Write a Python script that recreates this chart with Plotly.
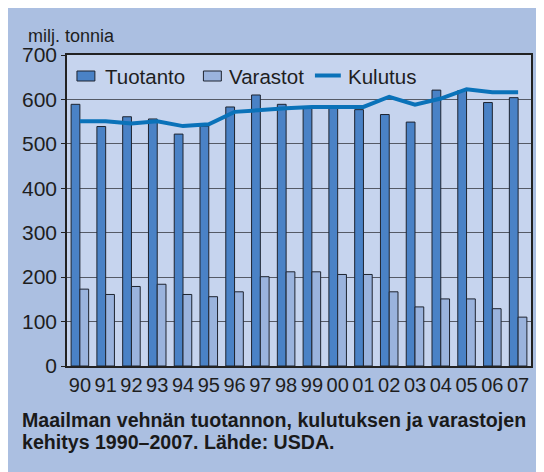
import plotly.graph_objects as go

years = ["90","91","92","93","94","95","96","97","98","99","00","01","02","03","04","05","06","07"]
tuotanto = [589, 539, 561, 556, 522, 540, 583, 610, 589, 583, 583, 577, 566, 549, 621, 620, 593, 604]
varastot = [173, 161, 179, 184, 161, 156, 167, 201, 212, 212, 206, 206, 167, 133, 151, 151, 129, 110]
kulutus = [551, 551, 546, 551, 540, 544, 572, 577, 580, 583, 583, 583, 606, 588, 602, 623, 616, 616]

FONT = "Liberation Sans, Arial, sans-serif"
C_TUO = "#4a82c6"
C_VAR = "#9ab3dd"
C_KUL = "#0a72b9"
EDGE = "#1e2430"

# plot area in page pixels: x 67..533, y 55..366
def px(X):
    return (X - 67) / 466

def py(Y):
    return (366 - Y) / 311

fig = go.Figure()
fig.add_trace(go.Bar(x=years, y=tuotanto, name="Tuotanto",
                     marker=dict(color=C_TUO, line=dict(color=EDGE, width=1))))
fig.add_trace(go.Bar(x=years, y=varastot, name="Varastot",
                     marker=dict(color=C_VAR, line=dict(color=EDGE, width=1))))
fig.add_trace(go.Scatter(x=years, y=kulutus, name="Kulutus", mode="lines",
                         line=dict(color=C_KUL, width=4)))

legend_shapes = [
    dict(type="rect", xref="paper", yref="paper", x0=px(77), x1=px(95), y0=py(81), y1=py(71),
         fillcolor=C_TUO, line=dict(color=EDGE, width=1), layer="above"),
    dict(type="rect", xref="paper", yref="paper", x0=px(204), x1=px(222), y0=py(81), y1=py(71),
         fillcolor=C_VAR, line=dict(color=EDGE, width=1), layer="above"),
    dict(type="line", xref="paper", yref="paper", x0=px(316), x1=px(342), y0=py(75.5), y1=py(75.5),
         line=dict(color=C_KUL, width=4), layer="above"),
]

legend_ann = [
    dict(text=t, xref="paper", yref="paper", x=px(X), y=py(76), xanchor="left", yanchor="middle",
         showarrow=False, font=dict(size=20.5, color="#1e1e1e"))
    for t, X in (("Tuotanto", 103), ("Varastot", 228), ("Kulutus", 347))
]

# page body has an 8px margin, so the figure is drawn at (8, 8)
fig.update_layout(
    width=536, height=464,
    margin=dict(l=59, r=11, t=47, b=106),
    paper_bgcolor="#abbfe1",
    plot_bgcolor="#c6d4ee",
    barmode="group", bargap=0.32, bargroupgap=0,
    font=dict(family=FONT, color="#1e1e1e", size=20),
    showlegend=False,
    xaxis=dict(type="category", showgrid=False, ticks="", tickfont=dict(size=20),
               showline=True, linecolor="#222", linewidth=1.5, mirror=True),
    yaxis=dict(range=[0, 700], dtick=100, showgrid=True, gridcolor="#555a66", gridwidth=1,
               ticks="outside", ticklen=4, tickcolor="#222", tickfont=dict(size=21),
               showline=True, linecolor="#222", linewidth=1.5, mirror=True, zeroline=False),
    shapes=legend_shapes,
    annotations=legend_ann + [
        dict(text="milj. tonnia", xref="paper", yref="paper", x=px(26), y=py(36),
             xanchor="left", yanchor="middle", showarrow=False, font=dict(size=18)),
        dict(text="<b>Maailman vehnän tuotannon, kulutuksen ja varastojen</b>",
             xref="paper", yref="paper", x=px(20), y=py(420),
             xanchor="left", yanchor="middle", align="left", showarrow=False,
             font=dict(size=19.6, color="#1a1a1a")),
        dict(text="<b>kehitys 1990–2007. Lähde: USDA.</b>",
             xref="paper", yref="paper", x=px(20), y=py(442),
             xanchor="left", yanchor="middle", align="left", showarrow=False,
             font=dict(size=19.6, color="#1a1a1a")),
    ],
)

fig.write_html("out.html")
